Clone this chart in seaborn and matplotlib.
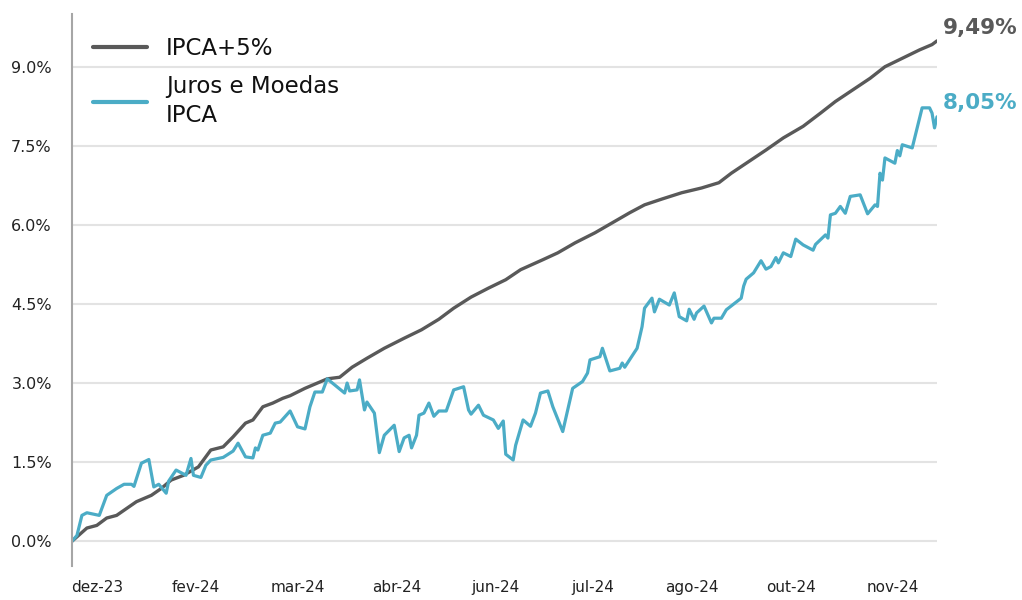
import pandas as pd
import seaborn as sns
import matplotlib.pyplot as plt

# dias corridos desde a data base
base = pd.Timestamp('2023-12-17')

dias_ipca5 = [0, 6, 10, 14, 18, 22, 26, 32, 36, 40, 45, 51, 56, 61, 65, 70, 73, 77, 81, 85,
              88, 94, 103, 108, 113, 119, 126, 134, 141, 148, 154, 161, 168, 175, 181, 190,
              196, 203, 211, 218, 225, 231, 238, 246, 254, 261, 266, 273, 280, 287, 295,
              302, 308, 315, 322, 328, 335, 342, 347, 349]
ipca5 = [0.00, 0.25, 0.30, 0.44, 0.49, 0.62, 0.75, 0.87, 1.00, 1.16, 1.25, 1.41, 1.73, 1.79,
         1.98, 2.24, 2.30, 2.55, 2.62, 2.71, 2.76, 2.90, 3.08, 3.11, 3.30, 3.47, 3.66, 3.85,
         4.01, 4.21, 4.42, 4.63, 4.80, 4.96, 5.15, 5.34, 5.47, 5.66, 5.85, 6.04, 6.23, 6.38,
         6.49, 6.61, 6.70, 6.80, 6.98, 7.20, 7.42, 7.65, 7.87, 8.12, 8.34, 8.56, 8.78, 9.00,
         9.16, 9.32, 9.42, 9.49]

dias_jm = [0, 2, 4, 6, 8, 11, 14, 18, 21, 24, 25, 28, 31, 33, 35, 38, 39, 42, 46, 48, 49, 52,
           54, 56, 61, 65, 67, 70, 73, 74, 75, 77, 80, 82, 84, 88, 91, 94, 96, 98, 101, 103,
           110, 111, 112, 115, 116, 118, 119, 122, 124, 126, 130, 132, 134, 136, 137, 139,
           140, 142, 144, 146, 148, 151, 154, 158, 160, 161, 164, 166, 170, 172, 174, 175,
           178, 179, 182, 185, 187, 189, 192, 194, 198, 202, 206, 208, 209, 213, 214, 217,
           221, 222, 223, 228, 230, 231, 234, 235, 237, 241, 243, 245, 248, 249, 251, 252,
           255, 258, 259, 262, 264, 270, 271, 272, 275, 278, 280, 282, 284, 285, 287, 290,
           292, 295, 299, 300, 304, 305, 306, 308, 310, 312, 314, 318, 321, 324, 325, 326,
           327, 328, 332, 333, 334, 335, 339, 343, 346, 347, 348, 349]
juros_moedas = [0.00, 0.11, 0.49, 0.54, 0.52, 0.49, 0.87, 1.00, 1.08, 1.08, 1.04, 1.48, 1.55,
                1.03, 1.08, 0.91, 1.14, 1.35, 1.25, 1.57, 1.25, 1.21, 1.44, 1.54, 1.59, 1.71,
                1.86, 1.60, 1.58, 1.77, 1.73, 2.01, 2.05, 2.24, 2.26, 2.47, 2.17, 2.13, 2.55,
                2.83, 2.83, 3.08, 2.81, 3.00, 2.85, 2.87, 3.06, 2.49, 2.64, 2.43, 1.68, 2.01,
                2.20, 1.70, 1.96, 2.01, 1.77, 2.01, 2.39, 2.43, 2.62, 2.37, 2.47, 2.47, 2.87,
                2.93, 2.49, 2.41, 2.58, 2.39, 2.30, 2.14, 2.28, 1.65, 1.54, 1.82, 2.30, 2.18,
                2.43, 2.81, 2.85, 2.55, 2.08, 2.90, 3.03, 3.19, 3.44, 3.50, 3.66, 3.23, 3.28,
                3.38, 3.30, 3.66, 4.07, 4.42, 4.61, 4.35, 4.59, 4.48, 4.71, 4.26, 4.18, 4.40,
                4.21, 4.33, 4.46, 4.14, 4.23, 4.23, 4.39, 4.61, 4.84, 4.97, 5.09, 5.32, 5.16,
                5.21, 5.38, 5.28, 5.47, 5.40, 5.73, 5.62, 5.52, 5.63, 5.81, 5.75, 6.19, 6.22,
                6.35, 6.22, 6.54, 6.57, 6.21, 6.38, 6.35, 6.98, 6.85, 7.27, 7.17, 7.41, 7.31,
                7.52, 7.46, 8.22, 8.22, 8.12, 7.84, 8.05]

tick_dias = [10, 50, 91, 131, 171, 210, 250, 290, 331]
tick_labels = ['dez-23', 'fev-24', 'mar-24', 'abr-24', 'jun-24', 'jul-24', 'ago-24', 'out-24', 'nov-24']
y_ticks = [0.0, 1.5, 3.0, 4.5, 6.0, 7.5, 9.0]

cor_cinza = '#595959'
cor_azul = '#4BACC6'

df_ipca = pd.DataFrame({'data': base + pd.to_timedelta(dias_ipca5, unit='D'), 'valor': ipca5})
df_jm = pd.DataFrame({'data': base + pd.to_timedelta(dias_jm, unit='D'), 'valor': juros_moedas})

sns.set_theme(style='white')
plt.rcParams['font.family'] = ['DejaVu Sans']

fig = plt.figure(figsize=(10.22, 6.0), dpi=100)
ax = fig.add_axes([72 / 1022, 34 / 600, 865 / 1022, 552 / 600])

sns.lineplot(data=df_ipca, x='data', y='valor', color=cor_cinza, linewidth=2.4,
             label='IPCA+5%', ax=ax)
sns.lineplot(data=df_jm, x='data', y='valor', color=cor_azul, linewidth=2.3,
             label='Juros e Moedas\nIPCA', ax=ax)

ax.set_xlim(df_ipca['data'].iloc[0], df_ipca['data'].iloc[-1])
ax.set_ylim(-0.47, 10.0)
ax.set_yticks(y_ticks)
ax.set_yticklabels([f'{v:.1f}%' for v in y_ticks], fontsize=11.5, color='#222222')
ax.set_xticks(base + pd.to_timedelta(tick_dias, unit='D'))
ax.set_xticklabels(tick_labels, fontsize=11, color='#222222')
ax.tick_params(axis='x', pad=10, length=0)
ax.tick_params(axis='y', pad=14.5, length=0)
ax.set_xlabel('')
ax.set_ylabel('')

ax.yaxis.grid(True, color='#e3e3e3', linewidth=1.5)
ax.set_axisbelow(True)
for s in ['top', 'right', 'bottom']:
    ax.spines[s].set_visible(False)
ax.spines['left'].set_color('#a6a6a6')
ax.spines['left'].set_linewidth(1.5)

leg = ax.legend(loc='upper left', bbox_to_anchor=(0.0005, 0.995), frameon=False,
                fontsize=16.5, handlelength=2.36, handletextpad=0.83, labelspacing=0.62)
for line in leg.get_lines():
    line.set_linewidth(3)
for t in leg.get_texts():
    t.set_linespacing(1.33)
    t.set_color('#111111')

ax.annotate('9,49%', xy=(df_ipca['data'].iloc[-1], ipca5[-1]), xytext=(4, 9),
            textcoords='offset points', ha='left', va='center', fontsize=15.5,
            fontweight='bold', color=cor_cinza, annotation_clip=False)
ax.annotate('8,05%', xy=(df_jm['data'].iloc[-1], juros_moedas[-1]), xytext=(4, 10),
            textcoords='offset points', ha='left', va='center', fontsize=15.5,
            fontweight='bold', color=cor_azul, annotation_clip=False)

fig.savefig('out.png', dpi=100)
